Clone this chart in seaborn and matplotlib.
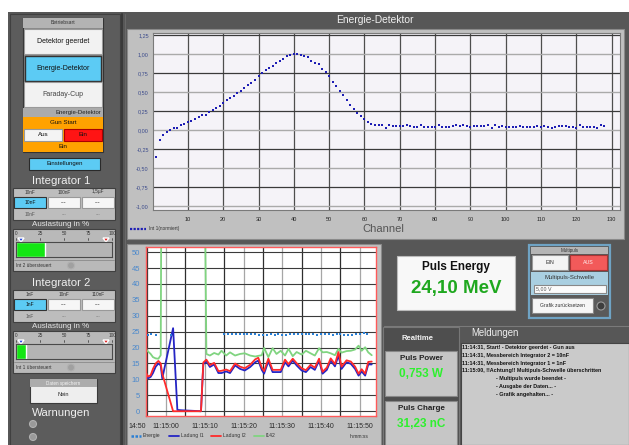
import numpy as np
import pandas as pd
import matplotlib
matplotlib.use("Agg")
import matplotlib.pyplot as plt
from matplotlib import font_manager
from matplotlib.patches import Rectangle, Circle, Polygon
from matplotlib.lines import Line2D
from matplotlib.ticker import FuncFormatter, MultipleLocator, FixedLocator
import seaborn as sns

# =====================
# DATA
# =====================

channels = np.arange(1, 129)

int1_normiert = [
    -0.35, -0.13, -0.06, -0.03, 0.00, 0.03, 0.03, 0.06, 0.08, 0.11,
    0.12, 0.15, 0.17, 0.20, 0.20, 0.24, 0.27, 0.29, 0.32, 0.35,
    0.39, 0.42, 0.45, 0.49, 0.52, 0.56, 0.59, 0.62, 0.66, 0.71,
    0.75, 0.79, 0.82, 0.85, 0.88, 0.91, 0.94, 0.97, 0.99, 1.00,
    1.00, 0.99, 0.98, 0.96, 0.91, 0.89, 0.87, 0.81, 0.77, 0.71,
    0.64, 0.58, 0.51, 0.46, 0.39, 0.33, 0.28, 0.23, 0.18, 0.14,
    0.11, 0.08, 0.07, 0.07, 0.07, 0.03, 0.06, 0.05, 0.05, 0.05,
    0.05, 0.06, 0.05, 0.04, 0.04, 0.06, 0.04, 0.04, 0.04, 0.04,
    0.06, 0.04, 0.04, 0.04, 0.05, 0.06, 0.05, 0.06, 0.05, 0.04,
    0.05, 0.05, 0.05, 0.05, 0.06, 0.03, 0.06, 0.04, 0.05, 0.04,
    0.04, 0.04, 0.04, 0.05, 0.04, 0.04, 0.04, 0.04, 0.05, 0.04,
    0.05, 0.04, 0.03, 0.04, 0.05, 0.05, 0.05, 0.04, 0.04, 0.03,
    0.06, 0.04, 0.04, 0.04, 0.04, 0.03, 0.06, 0.05,
]

# time in seconds after 11:15:00
zeit_rechts = [
    10.4, 11.3, 12.4, 13.5, 14.3, 15.5, 16.5, 17.8, 19.1, 20.3,
    21.7, 23.0, 23.8, 24.7, 25.3, 26.4, 27.5, 28.5, 29.6, 30.7,
    31.6, 32.7, 33.7, 35.0, 36.1, 37.3, 38.4, 39.5, 40.4, 41.5,
    42.5, 43.6, 44.5, 45.3, 46.6, 47.7, 48.8, 49.7, 50.5, 51.4,
    52.2, 53.1,
]

ladung1_zeit = [-5.3, -4.7, -4.0, -3.4, -2.7, -2.0, -1.4, -1.0, 1.8, 2.9, 4.0, 9.0, 9.6] + zeit_rechts
ladung1_wert = [11.5, 10.3, 10.8, 12.0, 14.0, 15.0, 14.4, 10.3, 26.1, 0.4, 0.3, 0.0, 14.8] + [
    15.7, 13.9, 14.7, 12.0, 12.0, 12.5, 12.0, 14.4, 13.3, 12.8,
    13.9, 15.4, 15.9, 13.0, 11.8, 15.7, 12.3, 12.3, 12.3, 15.4,
    14.1, 15.9, 14.4, 12.8, 12.3, 13.9, 13.0, 15.9, 11.8, 13.0,
    15.9, 14.1, 17.5, 13.3, 15.4, 14.9, 13.3, 11.2, 12.5, 11.2,
    14.7, 14.7,
]

ladung2_zeit = [-5.3, -4.7, -4.0, -3.4, -2.7, -2.0, -1.4, -1.0, 1.8, 9.0, 9.6] + zeit_rechts
ladung2_wert = [12.3, 10.9, 11.3, 13.3, 15.0, 15.8, 15.0, 11.8, 0.0, 0.0, 15.3] + [
    16.2, 14.5, 15.2, 12.6, 12.7, 13.1, 12.6, 15.0, 14.0, 13.5,
    14.6, 16.3, 16.8, 13.7, 12.6, 16.5, 13.0, 13.0, 13.0, 16.2,
    14.8, 16.5, 15.1, 13.5, 12.9, 14.6, 13.7, 16.5, 12.4, 13.7,
    16.6, 14.8, 18.6, 14.0, 16.0, 15.6, 14.0, 11.8, 13.2, 11.8,
    15.5, 15.6,
]

# I142 runs off the top of the scale between the two vertical jumps
i142_zeit = [-5.3, -4.7, -4.0, -3.4, -2.7, -2.0, -1.4, -1.2, 9.9] + zeit_rechts
i142_wert = [19.7, 18.8, 18.0, 17.0, 16.6, 16.5, 17.6, 80.0, 80.0] + [
    18.0, 17.5, 18.3, 17.8, 19.0, 17.5, 18.5, 17.5, 18.0, 18.2,
    17.5, 17.2, 17.4, 17.6, 19.9, 17.0, 19.8, 18.0, 19.0, 17.5,
    19.6, 17.3, 18.6, 17.8, 19.0, 18.2, 17.5, 19.8, 18.5, 18.6,
    18.2, 17.6, 19.6, 18.4, 18.9, 19.0, 19.4, 20.6, 19.0, 20.1,
    18.5, 17.6,
]

energie_zeit = [-4.8, -3.8, -2.7, 1.2,
                15, 16, 17, 18, 19, 20, 21, 22, 23, 24,
                25, 26, 27, 28, 29, 30, 31, 32, 33, 34,
                35, 36, 37, 38, 39, 40, 41, 42, 43, 44,
                45, 46, 47, 48, 49, 50, 51, 52]
energie_wert = [24.0, 24.2, 23.8, 24.1,
                24.3, 24.3, 24.2, 24.3, 24.2, 24.2, 24.3, 24.2, 24.2, 24.1,
                23.8, 24.0, 24.3, 24.1, 24.2, 23.8, 24.1, 24.3, 24.2, 24.3,
                24.2, 24.2, 24.3, 24.2, 24.1, 24.2, 24.3, 24.2, 23.9, 24.2,
                24.3, 23.9, 23.9, 24.0, 24.3, 24.2, 24.5, 24.2]

zeit_ticks = [0, 10, 20, 30, 40, 50]

auslastung = [30, 10]          # Integrator 1, Integrator 2 in %
gauge_ticks = [0, 25, 50, 75, 100]

meldungen = [
    "11:14:31, Start! - Detektor geerdet - Gun aus",
    "11:14:31, Messbereich Integrator 2 = 10nF",
    "11:14:31, Messbereich Integrator 1 = 1nF",
    "11:15:00, !!Achtung!! Multipuls-Schwelle überschritten",
]
meldungen_sub = [
    "- Multipuls wurde beendet -",
    "- Ausgabe der Daten... -",
    "- Grafik angehalten... -",
]

# =====================
# FIGURE / FONTS
# =====================

sns.set_style("white")
names = {f.name for f in font_manager.fontManager.ttflist}
SANS = ["Liberation Sans", "DejaVu Sans"]
if "Liberation Sans Narrow" in names:
    NARROW = ["Liberation Sans Narrow", "Liberation Sans"]
    nscale = 1.0
else:
    NARROW = SANS
    nscale = 0.82
plt.rcParams["font.family"] = SANS

W, H = 629, 445
fig = plt.figure(figsize=(W / 100, H / 100), dpi=100)
fig.patch.set_facecolor("white")

bg = fig.add_axes([0, 0, 1, 1])
bg.set_xlim(0, W)
bg.set_ylim(H, 0)
bg.axis("off")


def px_axes(x0, y0, x1, y1):
    return fig.add_axes([x0 / W, 1 - y1 / H, (x1 - x0) / W, (y1 - y0) / H])


def box(x0, y0, x1, y1, fc, ec="none", lw=0.8, z=1):
    bg.add_patch(Rectangle((x0, y0), x1 - x0, y1 - y0, fc=fc, ec=ec, lw=lw, zorder=z))


def label(x, y, s, size=5, color="#111111", ha="center", weight="normal", family=None, z=6):
    bg.text(x, y, s, fontsize=size, color=color, ha=ha, va="center",
            fontweight=weight, family=family or SANS, zorder=z)


def title(x, y, s, size, color="#f0f0f0"):
    label(x, y, s, size=size * nscale, color=color, family=NARROW)


def led(x, y, fc="#5a5a5a"):
    bg.add_patch(Circle((x, y), 3.5, fc=fc, ec="#b0b0b0", lw=0.8, zorder=3))


# =====================
# BACKGROUND PANELS
# =====================

box(8, 12, W, H, "#575757")
box(10, 14, 120, H, "#5c5c5c", ec="#404040")
bg.plot([122, 122], [14, H], color="#3a3a3a", lw=1.4, zorder=2)
bg.plot([124.5, 124.5], [14, H], color="#6c6c6c", lw=0.6, zorder=2)

title(375, 20, "Energie-Detektor", 9)
box(127, 29, 624, 239, "#c0c0c0", ec="#8a8a8a")
box(127, 244, 381, H, "#c0c0c0", ec="#8a8a8a")

# =====================
# LEFT PANEL
# =====================

box(23, 18, 103, 152, "#8a8a8a", ec="#333333")
box(23, 18, 103, 28, "#b3b3b3")
label(63, 23, "Betriebsart", 3.6, "#333333")
box(24, 29, 102, 54, "#f2f2f2", ec="#9a9a9a")
label(63, 41.5, "Detektor geerdet", 5)
box(25, 56, 101, 81, "#5ccbf4", ec="#333333", lw=1)
label(63, 68.5, "Energie-Detektor", 5)
box(24, 82, 102, 107, "#f2f2f2", ec="#9a9a9a")
label(63, 94.5, "Faraday-Cup", 5, "#444444")
box(23, 108, 103, 117, "#ababab")
label(101, 112.5, "Energie-Detektor", 4.3, "#222222", ha="right")
box(23, 117, 103, 152, "#ffa200")
label(63, 123, "Gun Start", 4.5)
box(24, 129, 62, 141, "#f4f4f4", ec="#999999")
label(43, 135, "Aus", 4.5)
box(64, 129, 102, 141, "#ff1414", ec="#aa0000")
label(83, 135, "Ein", 4.5)
label(63, 147, "Ein", 4.5)

box(29, 158, 100, 170, "#5ccbf4", ec="#2a2a2a")
label(64.5, 164, "Einstellungen", 4.3)

for i, (y0, name, caps, gauge_val, warn) in enumerate([
        (181, "Integrator 1", ["10nF", "100nF", "1,5µF"], auslastung[0], "Int 2 übersteuert"),
        (283, "Integrator 2", ["1nF", "10nF", "110nF"], auslastung[1], "Int 1 übersteuert")]):
    title(61, y0, name, 10)
    box(13, y0 + 7, 115, y0 + 39, "#bdbdbd", ec="#404040")
    for cx, cap in zip([30, 64, 98], caps):
        label(cx, y0 + 11, cap, 3.4, "#333333")
    box(14, y0 + 16, 46, y0 + 27, "#5ccbf4", ec="#333333")
    label(30, y0 + 21.5, caps[0], 3.6)
    box(48, y0 + 16, 80, y0 + 27, "#f6f6f6", ec="#999999")
    box(82, y0 + 16, 114, y0 + 27, "#f6f6f6", ec="#999999")
    label(64, y0 + 21.5, "---", 4)
    label(98, y0 + 21.5, "---", 4)
    label(30, y0 + 33.5, caps[0], 3.4, "#555555")
    label(64, y0 + 33.5, "---", 3.4, "#777777")
    label(98, y0 + 33.5, "---", 3.4, "#777777")
    title(61, y0 + 43, "Auslastung in %", 7, "#e4e4e4")

    gy = y0 + 48
    box(13, gy, 115, gy + 42, "#b9b9b9", ec="#404040")
    for t in gauge_ticks:
        gx = 16 + t * 0.96
        label(gx, gy + 4.5, str(t), 3.4, "#333333")
        bg.plot([gx, gx], [gy + 8.5, gy + 11], color="#333333", lw=0.5, zorder=3)
    bg.add_patch(Polygon([[18, gy + 9], [24, gy + 9], [21, gy + 13]], fc="#1b3fe0", zorder=4))
    bg.add_patch(Polygon([[103, gy + 9], [109, gy + 9], [106, gy + 13]], fc="#e01b1b", zorder=4))
    gax = px_axes(16, gy + 13, 112, gy + 28)
    gax.barh([0], [gauge_val], height=1.0, color="#14e614", left=0)
    gax.set_xlim(0, 100)
    gax.set_ylim(-0.5, 0.5)
    gax.set_facecolor("#b4b4b4")
    gax.set_xticks([])
    gax.set_yticks([])
    for sp in gax.spines.values():
        sp.set_color("#4a4a4a")
        sp.set_linewidth(0.8)
    bg.plot([14, 114], [gy + 31, gy + 31], color="#8a8a8a", lw=0.6, zorder=3)
    label(16, gy + 36.5, warn, 3.4, "#333333", ha="left")
    led(71, gy + 36.5, "#a0a0a0")

box(30, 379, 97, 403, "#eeeeee", ec="#3a3a3a")
box(30, 379, 97, 387, "#acacac")
label(63.5, 383, "Daten speichern", 3.3, "#f4f4f4")
label(63.5, 395, "Nein", 4, "#222222")
title(61, 413, "Warnungen", 10)
led(33, 424, "#9a9a9a")
led(33, 437, "#9a9a9a")

# =====================
# ENERGIE-DETEKTOR CHART
# =====================

ax_top = px_axes(153, 33, 620, 210)
ax_top.set_facecolor("#f5f3f8")
sns.scatterplot(x=channels, y=int1_normiert, ax=ax_top, marker="s", s=4.2,
                color="#1e1eb4", linewidth=0, legend=False, zorder=3)
ax_top.set_xlim(0.1, 132.4)
ax_top.set_ylim(-1.055, 1.28)
ax_top.xaxis.set_major_locator(FixedLocator(list(range(10, 131, 10))))
ax_top.yaxis.set_major_locator(FixedLocator([-1.0, -0.5, 0.0, 0.5, 1.0]))
ax_top.yaxis.set_minor_locator(FixedLocator([-0.75, -0.25, 0.25, 0.75, 1.25]))
comma = FuncFormatter(lambda v, p: f"{v:.2f}".replace(".", ","))
ax_top.yaxis.set_major_formatter(comma)
ax_top.yaxis.set_minor_formatter(comma)
ax_top.set_axisbelow(True)
ax_top.grid(which="major", axis="y", color="#aaaaaa", lw=1.0)
ax_top.grid(which="minor", axis="y", color="#3a3a3a", lw=0.9)
ax_top.grid(which="major", axis="x", color="#4e4e4e", lw=0.9)
ax_top.tick_params(axis="y", which="both", length=0, labelsize=4, labelcolor="#3d4c8c", pad=3)
ax_top.tick_params(axis="x", which="both", length=0, labelsize=4, labelcolor="#222222", pad=5)
for sp in ax_top.spines.values():
    sp.set_color("#7a7a7a")
    sp.set_linewidth(0.8)
ax_top.set_xlabel("")
ax_top.set_ylabel("")
label(383, 229, "Channel", 8, "#555555")
top_handle = Line2D([], [], color="#1e1eb4", lw=1.6, ls=(0, (1, 0.6)))
ax_top.legend([top_handle], ["Int 1(normiert)"], loc="center left",
              bbox_to_anchor=(-0.05, -0.107), frameon=False, fontsize=3.4,
              handlelength=3.5, handletextpad=0.6, borderpad=0, borderaxespad=0,
              labelcolor="#333333")

# =====================
# TIME CHART
# =====================

lines = pd.concat([
    pd.DataFrame({"zeit": ladung1_zeit, "wert": ladung1_wert, "signal": "Ladung I1"}),
    pd.DataFrame({"zeit": ladung2_zeit, "wert": ladung2_wert, "signal": "Ladung I2"}),
    pd.DataFrame({"zeit": i142_zeit, "wert": i142_wert, "signal": "I142"}),
], ignore_index=True)
line_colors = {"Ladung I1": "#2525c4", "Ladung I2": "#ff2a2a", "I142": "#80d480"}

ax_bot = px_axes(146, 247, 376, 416)
ax_bot.set_facecolor("#ffffff")
sns.lineplot(data=lines, x="zeit", y="wert", hue="signal", palette=line_colors,
             hue_order=["I142", "Ladung I1", "Ladung I2"], sort=False, estimator=None,
             linewidth=1.3, ax=ax_bot, legend=False)
sns.scatterplot(x=energie_zeit, y=energie_wert, ax=ax_bot, marker="s", s=3.8,
                color="#2a7fd4", linewidth=0, legend=False, zorder=4)
ax_bot.set_xlim(-5.2, 54.2)
ax_bot.set_ylim(-1.5, 51.6)
ax_bot.xaxis.set_major_locator(FixedLocator(zeit_ticks))
ax_bot.xaxis.set_minor_locator(FixedLocator([-5, 5, 15, 25, 35, 45]))
ax_bot.xaxis.set_major_formatter(FuncFormatter(lambda v, p: f"11:15:{int(round(v)):02d}"))
ax_bot.yaxis.set_major_locator(MultipleLocator(5))
ax_bot.set_axisbelow(True)
ax_bot.grid(which="major", axis="x", color="#a6a6a6", lw=0.9)
ax_bot.grid(which="minor", axis="x", color="#2e2e2e", lw=0.9)
ax_bot.grid(which="major", axis="y", color="#3a3a3a", lw=0.8)
ax_bot.tick_params(axis="y", which="both", length=0, labelsize=5.5, labelcolor="#4a88cc", pad=4.3)
ax_bot.tick_params(axis="x", which="both", length=0, labelsize=5, labelcolor="#2a2a2a", pad=4.7)
for sp in ax_bot.spines.values():
    sp.set_color("#ff5a5a")
    sp.set_linewidth(1.0)
ax_bot.set_xlabel("")
ax_bot.set_ylabel("")
label(128, 426, "14:50", 5, "#2a2a2a", ha="left")

handles = [
    Line2D([], [], color="#2a7fd4", lw=1.8, ls=(0, (1, 0.6))),
    Line2D([], [], color=line_colors["Ladung I1"], lw=1.3),
    Line2D([], [], color=line_colors["Ladung I2"], lw=1.3),
    Line2D([], [], color=line_colors["I142"], lw=1.3),
]
ax_bot.legend(handles, ["Energie", "Ladung I1", "Ladung I2", "I142"], ncol=4,
              loc="center left", bbox_to_anchor=(-0.065, -0.118), frameon=False,
              fontsize=3.6, handlelength=2.0, handletextpad=0.4, columnspacing=1.6,
              borderpad=0, borderaxespad=0, labelcolor="#333333")
label(369, 436, "h:mm:ss", 3.6, "#333333", ha="right")

# =====================
# RIGHT LOWER PANELS
# =====================

box(397, 256, 515, 310, "#f8f8f8", ec="#bbbbbb")
label(456, 267, "Puls Energy", 8.5, "#111111", weight="bold")
label(456, 288, "24,10 MeV", 13.5, "#1fa81f", weight="bold")

box(529, 245, 610, 318, "#5a5a5a", ec="#6fa3c4", lw=1.6)
box(531, 247, 608, 254, "#b5b5b5")
label(569.5, 250.5, "Multipuls", 3.3, "#333333")
box(532, 255, 568, 270, "#f4f4f4", ec="#999999")
label(550, 262.5, "EIN", 3.8, "#333333")
box(570, 255, 607, 270, "#f25a5a", ec="#aa3333")
label(588.5, 262.5, "AUS", 3.8, "#fff0f0")
box(531, 272, 608, 295, "#a9cfe1")
label(569.5, 278, "Multipuls-Schwelle", 4.3, "#333333")
box(534, 285, 606, 293, "#fbfbfb", ec="#888888")
label(536, 289, "5,00 V", 3.8, "#555555", ha="left")
box(532, 298, 593, 313, "#f6f6f6", ec="#888888")
label(562.5, 305.5, "Grafik zurücksetzen", 3.6, "#333333")
bg.add_patch(Circle((601, 306), 4, fc="#3e3e3e", ec="#9a9a9a", lw=0.8, zorder=3))

bg.plot([384, W], [326, 326], color="#7a7a7a", lw=0.8, zorder=2)
box(383, 327, 459, H, "#4e4e4e", ec="#777777")
label(418, 338, "Realtime", 5.5, "#f2f2f2", weight="bold")
box(385, 351, 457, 396, "#c6c6c6", ec="#888888")
label(421, 358, "Puls Power", 5.8, "#222222", weight="bold")
label(421, 374, "0,753 W", 8.5, "#2ef02e", weight="bold")
box(385, 401, 457, H, "#c6c6c6", ec="#888888")
label(421, 408, "Puls Charge", 5.8, "#222222", weight="bold")
label(421, 424, "31,23 nC", 8.5, "#2ef02e", weight="bold")

title(495, 333, "Meldungen", 8.5)
box(461, 343, W, H, "#cacaca", ec="#444444")
for yy, msg in zip([347.5, 355.2, 363.0, 370.8], meldungen):
    label(462.5, yy, msg, 3.9, "#111111", ha="left", weight="bold")
for yy, msg in zip([378.6, 386.4, 394.2], meldungen_sub):
    label(496, yy, msg, 3.9, "#111111", ha="left", weight="bold")

fig.savefig("out.png", dpi=100, facecolor=fig.get_facecolor())
